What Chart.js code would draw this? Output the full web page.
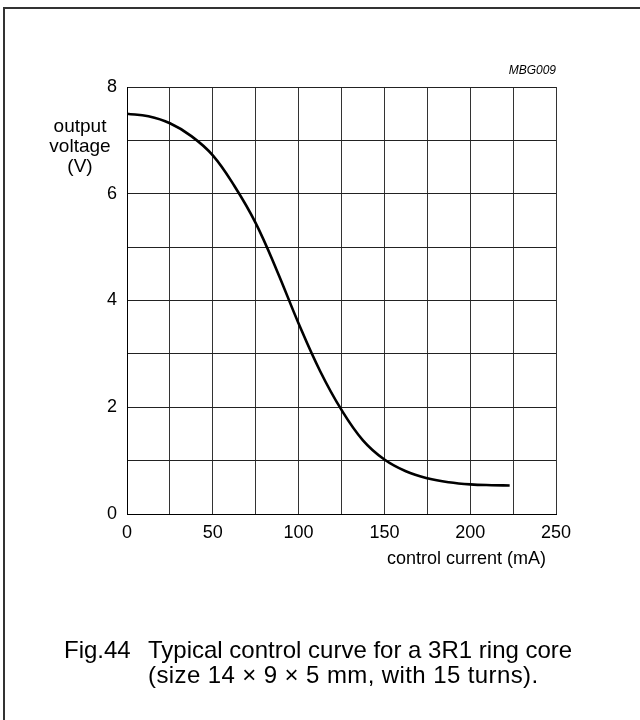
<!DOCTYPE html>
<html>
<head>
<meta charset="utf-8">
<title>Fig.44 control curve</title>
<script src="https://cdn.jsdelivr.net/npm/chart.js@4"></script>
<style>
  body { margin: 0; background: #fff; }
  canvas { display: block; }
</style>
</head>
<body>
<canvas id="chart" width="640" height="720"></canvas>
<script>
// control current (mA)
const currents = [0, 12.5, 25, 37.5, 50, 62.5, 75, 87.5, 100, 112.5, 125, 137.5, 150, 162.5, 175, 187.5, 200, 212.5, 223];
// output voltage (V) at those currents
const voltages = [7.50, 7.45, 7.32, 7.08, 6.72, 6.15, 5.45, 4.55, 3.57, 2.68, 1.95, 1.38, 1.02, 0.80, 0.67, 0.595, 0.555, 0.54, 0.535];

// axis ranges and labels
const xMin = 0, xMax = 250, xStep = 25, xLabelEvery = 50;
const yMin = 0, yMax = 8, yStep = 1, yLabelEvery = 2;
const yTitle = ['output', 'voltage', '(V)'];
const xTitle = 'control current (mA)';
const figCode = 'MBG009';
const caption = ['Fig.44', 'Typical control curve for a 3R1 ring core', '(size 14 \u00d7 9 \u00d7 5 mm, with 15 turns).'];

const FONT = '"Liberation Sans", Arial, Helvetica, sans-serif';

// draws the frame, axis titles and figure caption
const extras = {
  id: 'extras',
  afterDraw(chart) {
    const ctx = chart.ctx;
    const area = chart.chartArea;
    ctx.save();
    // page frame (top and left edge only)
    ctx.strokeStyle = '#333';
    ctx.lineWidth = 2;
    ctx.beginPath();
    ctx.moveTo(4, 720);
    ctx.lineTo(4, 8);
    ctx.lineTo(640, 8);
    ctx.stroke();

    ctx.fillStyle = '#000';
    ctx.textBaseline = 'middle';

    // y title, stacked to the left of the axis
    ctx.font = '19px ' + FONT;
    ctx.textAlign = 'center';
    yTitle.forEach((t, i) => ctx.fillText(t, 80, 127 + i * 20));

    // x title, right aligned under the axis
    ctx.font = '18px ' + FONT;
    ctx.textAlign = 'right';
    ctx.fillText(xTitle, area.right - 10, 559);

    // drawing code top right
    ctx.font = 'italic 12px ' + FONT;
    ctx.fillText(figCode, area.right, 71);

    // caption
    ctx.font = '24px ' + FONT;
    ctx.textAlign = 'left';
    ctx.fillText(caption[0], 64, 651);
    ctx.fillText(caption[1], 148, 651);
    ctx.letterSpacing = '0.4px';
    ctx.fillText(caption[2], 148, 676);
    ctx.restore();
  }
};

new Chart(document.getElementById('chart'), {
  type: 'line',
  data: {
    labels: currents,
    datasets: [{
      data: currents.map((c, i) => ({ x: c, y: voltages[i] })),
      borderColor: '#000',
      borderWidth: 2.6,
      pointRadius: 0,
      fill: false,
      tension: 0.4
    }]
  },
  options: {
    responsive: false,
    animation: false,
    layout: { padding: { left: 87, right: 84, top: 87, bottom: 176 } },
    plugins: {
      legend: { display: false },
      tooltip: { enabled: false }
    },
    scales: {
      x: {
        type: 'linear',
        min: xMin,
        max: xMax,
        afterFit(scale) { scale.height = 30; },
        border: { color: '#000', width: 1 },
        grid: { color: '#333', lineWidth: 1, drawTicks: false },
        ticks: {
          stepSize: xStep,
          autoSkip: false,
          maxRotation: 0,
          padding: 8,
          color: '#000',
          font: { family: FONT, size: 18 },
          callback: v => (v % xLabelEvery === 0 ? v : '')
        }
      },
      y: {
        min: yMin,
        max: yMax,
        afterFit(scale) { scale.width = 40; },
        border: { color: '#000', width: 1 },
        grid: { color: '#222', lineWidth: 1, drawTicks: false },
        ticks: {
          stepSize: yStep,
          autoSkip: false,
          padding: 10,
          color: '#000',
          font: { family: FONT, size: 18 },
          callback: v => (v % yLabelEvery === 0 ? v : '')
        }
      }
    }
  },
  plugins: [extras]
});
</script>
</body>
</html>
